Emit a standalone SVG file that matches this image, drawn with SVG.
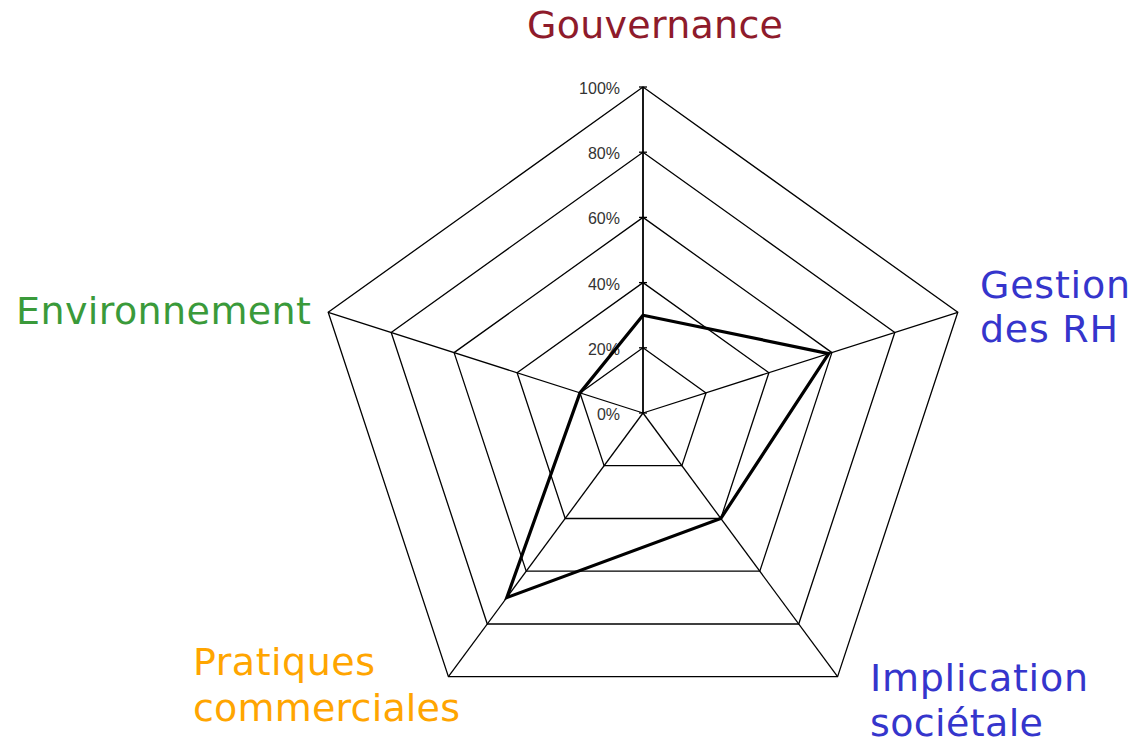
<svg xmlns="http://www.w3.org/2000/svg" width="1136" height="743" viewBox="0 0 1136 743">
  <style>
    .ring { fill: none; stroke: #000; stroke-width: 1.3; }
    .spoke { stroke: #000; stroke-width: 1.3; }
    .axis { stroke: #000; stroke-width: 1.8; }
    .tick { stroke: #000; stroke-width: 1.3; }
    .pct { font-family: "Liberation Sans", Arial, sans-serif; font-size: 16px; fill: #333; text-anchor: end; }
    .cat { font-family: "DejaVu Sans", "Open Sans", sans-serif; font-size: 38px; }
    .series { fill: none; stroke: #000; stroke-width: 3.2; stroke-linejoin: miter; }
  </style>
  <rect width="1136" height="743" fill="#fff"/>

  <g id="grid">
    <polygon class="ring" points="643,87 957.8,312.3 837.6,676.7 448.4,676.7 328.2,312.3"/>
    <polygon class="ring" points="643,152.2 894.8,332.4 798.7,624 487.3,624 391.2,332.4"/>
    <polygon class="ring" points="643,217.4 831.9,352.6 759.8,571.2 526.2,571.2 454.1,352.6"/>
    <polygon class="ring" points="643,282.6 768.9,372.7 720.8,518.5 565.2,518.5 517.1,372.7"/>
    <polygon class="ring" points="643,347.8 706,392.9 681.9,465.7 604.1,465.7 580,392.9"/>
  </g>

  <g id="axes">
    <line class="axis" x1="643" y1="413" x2="643" y2="87"/>
    <line class="spoke" x1="643" y1="413" x2="957.8" y2="312.3"/>
    <line class="spoke" x1="643" y1="413" x2="837.6" y2="676.7"/>
    <line class="spoke" x1="643" y1="413" x2="448.4" y2="676.7"/>
    <line class="spoke" x1="643" y1="413" x2="328.2" y2="312.3"/>
    <line class="tick" x1="639" y1="87" x2="647" y2="87"/>
    <line class="tick" x1="639" y1="152.2" x2="647" y2="152.2"/>
    <line class="tick" x1="639" y1="217.4" x2="647" y2="217.4"/>
    <line class="tick" x1="639" y1="282.6" x2="647" y2="282.6"/>
    <line class="tick" x1="639" y1="347.8" x2="647" y2="347.8"/>
    <line class="tick" x1="639" y1="413" x2="647" y2="413"/>
  </g>

  <g id="scale-labels">
    <text class="pct" x="620" y="94">100%</text>
    <text class="pct" x="620" y="159">80%</text>
    <text class="pct" x="620" y="224">60%</text>
    <text class="pct" x="620" y="290">40%</text>
    <text class="pct" x="620" y="355">20%</text>
    <text class="pct" x="620" y="420">0%</text>
  </g>

  <g id="connectors">
    <polygon id="series" class="series" points="643,315.2 828.7,353.6 720.8,518.5 506.8,597.6 580,392.9"/>
  </g>

  <g id="node-gouvernance">
    <text class="cat" x="527" y="38" fill="#8e1b2b" textLength="256">Gouvernance</text>
  </g>
  <g id="node-gestion-rh">
    <text class="cat" x="980" y="298" fill="#3535cc" textLength="150">Gestion</text>
    <text class="cat" x="980" y="342" fill="#3535cc" textLength="138">des RH</text>
  </g>
  <g id="node-implication">
    <text class="cat" x="870" y="691" fill="#3535cc" textLength="218">Implication</text>
    <text class="cat" x="870" y="736" fill="#3535cc" textLength="173">sociétale</text>
  </g>
  <g id="node-pratiques">
    <text class="cat" x="193" y="675" fill="#ffa500" textLength="182">Pratiques</text>
    <text class="cat" x="193" y="721" fill="#ffa500" textLength="267">commerciales</text>
  </g>
  <g id="node-environnement">
    <text class="cat" x="16" y="324" fill="#3a9a3a" textLength="295">Environnement</text>
  </g>
</svg>
